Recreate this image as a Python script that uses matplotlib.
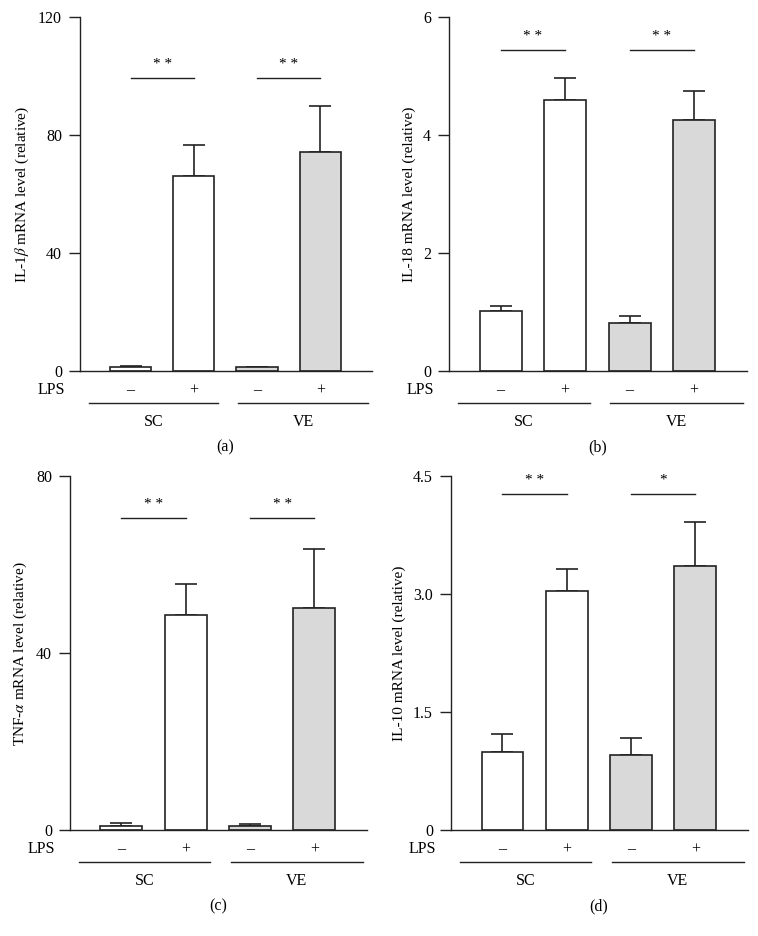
import numpy as np
import matplotlib
matplotlib.use('Agg')
import matplotlib.pyplot as plt
import matplotlib.transforms as mtransforms

plt.rcParams['font.family'] = ['Liberation Serif', 'DejaVu Serif']
plt.rcParams['mathtext.fontset'] = 'stix'

# order of bars: SC -, SC +, VE -, VE +
lps_signs = ['\u2013', '+', '\u2013', '+']
groups = ['SC', 'VE']

il1b_mean = [1.2, 66.1, 1.2, 74.2]
il1b_err = [0.4, 10.4, 0.3, 15.6]

il18_mean = [1.01, 4.60, 0.82, 4.26]
il18_err = [0.09, 0.37, 0.12, 0.49]

tnf_mean = [1.0, 48.7, 0.9, 50.3]
tnf_err = [0.6, 6.9, 0.5, 13.3]

il10_mean = [0.99, 3.04, 0.95, 3.36]
il10_err = [0.23, 0.28, 0.22, 0.56]

panels = [
    dict(mean=il1b_mean, err=il1b_err, ylabel=r'IL-1$\beta$ mRNA level (relative)',
         ymax=120, yticks=[0, 40, 80, 120], yfmt='{:.0f}', sig=['* *', '* *'],
         sig_y=[99.3, 99.3], tag='(a)', pos=[0.1055, 0.6036, 0.3853, 0.378]),
    dict(mean=il18_mean, err=il18_err, ylabel='IL-18 mRNA level (relative)',
         ymax=6, yticks=[0, 2, 4, 6], yfmt='{:.0f}', sig=['* *', '* *'],
         sig_y=[5.45, 5.45], tag='(b)', pos=[0.5923, 0.6036, 0.3932, 0.378]),
    dict(mean=tnf_mean, err=tnf_err, ylabel=r'TNF-$\alpha$ mRNA level (relative)',
         ymax=80, yticks=[0, 40, 80], yfmt='{:.0f}', sig=['* *', '* *'],
         sig_y=[70.5, 70.5], tag='(c)', pos=[0.0923, 0.1132, 0.3918, 0.378]),
    dict(mean=il10_mean, err=il10_err, ylabel='IL-10 mRNA level (relative)',
         ymax=4.5, yticks=[0, 1.5, 3.0, 4.5], yfmt='{:.1f}', sig=['* *', '*'],
         sig_y=[4.28, 4.28], tag='(d)', pos=[0.595, 0.1132, 0.3918, 0.378]),
]

fill_colors = ['white', 'white', '#d9d9d9', '#d9d9d9']
edge = '#222222'

fig = plt.figure(figsize=(7.58, 9.36), dpi=100)

for p in panels:
    ax = fig.add_axes(p['pos'])
    x = np.arange(4)
    ax.bar(x, p['mean'], width=0.65, color=fill_colors, edgecolor=edge, linewidth=1.2, zorder=2)
    ax.errorbar(x, p['mean'], yerr=[np.zeros(4), p['err']], fmt='none', ecolor=edge,
                elinewidth=1.2, capsize=8, capthick=1.2, zorder=1)

    ax.set_xlim(-0.8, 3.82)
    ax.set_ylim(0, p['ymax'])
    ax.set_yticks(p['yticks'])
    labels = ['0' if t == 0 else p['yfmt'].format(t) for t in p['yticks']]
    ax.set_yticklabels(labels, fontsize=11.5)
    ax.set_xticks([])
    ax.tick_params(axis='y', direction='out', length=8, width=1.0, color=edge, pad=5)
    for s in ['top', 'right']:
        ax.spines[s].set_visible(False)
    for s in ['left', 'bottom']:
        ax.spines[s].set_color(edge)
        ax.spines[s].set_linewidth(1.0)
    ax.set_ylabel(p['ylabel'], fontsize=11, labelpad=5)

    # significance bars
    for k, (a, b) in enumerate([(0, 1), (2, 3)]):
        ax.plot([a, b], [p['sig_y'][k]] * 2, color=edge, lw=1.0, clip_on=False)
        ax.annotate(p['sig'][k], xy=((a + b) / 2, p['sig_y'][k]), xytext=(0, 5),
                    textcoords='offset points', ha='center', va='bottom', fontsize=11)

    # LPS row, group lines and labels below axis
    trans = mtransforms.blended_transform_factory(ax.transData, ax.transAxes)
    ax.text(-1.03, -0.054, 'LPS', transform=trans, ha='right', va='center', fontsize=11.5)
    for i, sgn in enumerate(lps_signs):
        ax.text(i, -0.054, sgn, transform=trans, ha='center', va='center', fontsize=11.5)
    for (a, b), g in zip([(-0.66, 1.38), (1.7, 3.76)], groups):
        ax.plot([a, b], [-0.09, -0.09], transform=trans, color=edge, lw=1.0, clip_on=False)
        ax.text((a + b) / 2, -0.143, g, transform=trans, ha='center', va='center', fontsize=11.5)
    ax.text(1.5, -0.215, p['tag'], transform=trans, ha='center', va='center', fontsize=11.5)

fig.savefig('out.png', dpi=100)
